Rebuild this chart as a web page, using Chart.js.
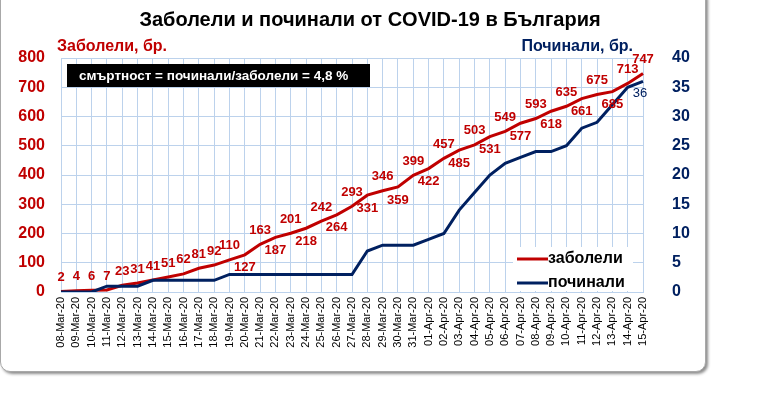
<!DOCTYPE html>
<html lang="bg">
<head>
<meta charset="utf-8">
<title>Заболели и починали от COVID-19 в България</title>
<script src="https://cdn.jsdelivr.net/npm/chart.js@4.4.1/dist/chart.umd.min.js"></script>
<style>
    html, body { margin: 0; padding: 0; background: #fff; overflow: hidden; }
    .frame {
        position: absolute; left: 0; top: -12px;
        width: 704px; height: 382px;
        border: 1px solid #a8a8a8; border-radius: 10px;
        box-shadow: 2px 2px 3px rgba(0, 0, 0, 0.45);
        background: #fff;
    }
    #chart { position: absolute; left: 0; top: 0; }
</style>
</head>
<body>
<div class="frame"></div>
<canvas id="chart" width="768" height="406"></canvas>
<script>
const dates = [
    '08-Mar-20', '09-Mar-20', '10-Mar-20', '11-Mar-20', '12-Mar-20', '13-Mar-20', '14-Mar-20', '15-Mar-20',
    '16-Mar-20', '17-Mar-20', '18-Mar-20', '19-Mar-20', '20-Mar-20', '21-Mar-20', '22-Mar-20', '23-Mar-20',
    '24-Mar-20', '25-Mar-20', '26-Mar-20', '27-Mar-20', '28-Mar-20', '29-Mar-20', '30-Mar-20', '31-Mar-20',
    '01-Apr-20', '02-Apr-20', '03-Apr-20', '04-Apr-20', '05-Apr-20', '06-Apr-20', '07-Apr-20', '08-Apr-20',
    '09-Apr-20', '10-Apr-20', '11-Apr-20', '12-Apr-20', '13-Apr-20', '14-Apr-20', '15-Apr-20'
];
const cases = [2, 4, 6, 7, 23, 31, 41, 51, 62, 81, 92, 110, 127, 163, 187, 201, 218, 242, 264, 293,
    331, 346, 359, 399, 422, 457, 485, 503, 531, 549, 577, 593, 618, 635, 661, 675, 685, 713, 747];
const deaths = [0, 0, 0, 1, 1, 1, 2, 2, 2, 2, 2, 3, 3, 3, 3, 3, 3, 3, 3, 3,
    7, 8, 8, 8, 9, 10, 14, 17, 20, 22, 23, 24, 24, 25, 28, 29, 32, 35, 36];
const casesTicks = [0, 100, 200, 300, 400, 500, 600, 700, 800];
const deathsTicks = [0, 5, 10, 15, 20, 25, 30, 35, 40];
const seriesNames = ['заболели', 'починали'];
const mortalityNote = 'смъртност = починали/заболели = 4,8 %';

document.addEventListener('DOMContentLoaded', function() {
    const RED = '#c00000';
    const NAVY = '#002060';
    const GRID = '#bcd2ec';
    const FONT = '"Liberation Sans", Arial, sans-serif';

    Chart.defaults.font.family = FONT;

    // red labels sit above the line at first, then alternate above/below
    function labelAbove(i) {
        if (i < 12 || i === cases.length - 1) return true;
        return i % 2 === 1;
    }

    const decorations = {
        id: 'decorations',
        afterDatasetsDraw(chart) {
            const ctx = chart.ctx;
            ctx.save();
            ctx.textAlign = 'center';
            ctx.textBaseline = 'middle';

            // value labels for cases
            ctx.font = 'bold 13px ' + FONT;
            ctx.fillStyle = RED;
            chart.getDatasetMeta(0).data.forEach((pt, i) => {
                const dy = labelAbove(i) ? -14 : 13;
                ctx.fillText(String(cases[i]), pt.x, pt.y + dy);
            });

            // only the last deaths value is labelled
            const deathPts = chart.getDatasetMeta(1).data;
            const last = deathPts[deathPts.length - 1];
            ctx.font = '13px ' + FONT;
            ctx.fillStyle = NAVY;
            ctx.fillText(String(deaths[deaths.length - 1]), last.x - 3, last.y + 12);
            ctx.restore();
        },
        afterDraw(chart) {
            const ctx = chart.ctx;
            ctx.save();

            // title
            ctx.textBaseline = 'middle';
            ctx.textAlign = 'center';
            ctx.fillStyle = '#000';
            ctx.font = 'bold 20px ' + FONT;
            ctx.fillText('Заболели и починали от COVID-19 в България', 370, 20);

            // axis titles
            ctx.font = 'bold 16px ' + FONT;
            ctx.textAlign = 'left';
            ctx.fillStyle = RED;
            ctx.fillText('Заболели, бр.', 57, 47);
            ctx.textAlign = 'right';
            ctx.fillStyle = NAVY;
            ctx.fillText('Починали, бр.', 633, 47);

            // mortality note box
            ctx.fillStyle = '#000';
            ctx.fillRect(67, 64, 303, 23);
            ctx.fillStyle = '#fff';
            ctx.textAlign = 'left';
            ctx.font = 'bold 13.5px ' + FONT;
            ctx.fillText(mortalityNote, 79, 76);

            // legend inside the plot
            const colors = [RED, NAVY];
            const rows = [259, 283];
            ctx.fillStyle = '#fff';
            ctx.fillRect(513, 247, 120, 44);
            ctx.font = 'bold 16px ' + FONT;
            seriesNames.forEach((name, i) => {
                ctx.strokeStyle = colors[i];
                ctx.lineWidth = 3;
                ctx.beginPath();
                ctx.moveTo(517, rows[i]);
                ctx.lineTo(548, rows[i]);
                ctx.stroke();
                ctx.fillStyle = '#000';
                ctx.fillText(name, 548, rows[i]);
            });
            ctx.restore();
        }
    };

    const ctx = document.getElementById('chart').getContext('2d');
    new Chart(ctx, {
        type: 'line',
        data: {
            labels: dates,
            datasets: [{
                label: seriesNames[0],
                data: cases,
                yAxisID: 'y',
                order: 1,
                borderColor: RED,
                borderWidth: 3,
                pointRadius: 0,
                tension: 0
            }, {
                label: seriesNames[1],
                data: deaths,
                yAxisID: 'y1',
                order: 0,
                borderColor: NAVY,
                borderWidth: 3,
                pointRadius: 0,
                tension: 0
            }]
        },
        options: {
            responsive: false,
            animation: false,
            layout: { padding: { top: 58, left: 0, right: 0, bottom: 0 } },
            plugins: {
                legend: { display: false },
                tooltip: { enabled: false }
            },
            scales: {
                x: {
                    offset: false,
                    grid: { color: GRID, drawTicks: false },
                    border: { color: GRID },
                    ticks: {
                        autoSkip: false,
                        minRotation: 90,
                        maxRotation: 90,
                        padding: 5,
                        color: '#000',
                        font: { size: 11 }
                    },
                    afterFit(scale) { scale.height = 114; }
                },
                y: {
                    position: 'left',
                    min: casesTicks[0],
                    max: casesTicks[casesTicks.length - 1],
                    grid: { color: GRID, drawTicks: false },
                    border: { color: GRID },
                    ticks: {
                        stepSize: casesTicks[1] - casesTicks[0],
                        padding: 16,
                        color: RED,
                        font: { size: 16, weight: 'bold' }
                    },
                    afterFit(scale) { scale.width = 61; }
                },
                y1: {
                    position: 'right',
                    min: deathsTicks[0],
                    max: deathsTicks[deathsTicks.length - 1],
                    grid: { display: false },
                    border: { display: false },
                    ticks: {
                        stepSize: deathsTicks[1] - deathsTicks[0],
                        padding: 21,
                        color: NAVY,
                        font: { size: 16, weight: 'bold' }
                    },
                    afterFit(scale) { scale.width = 125; }
                }
            }
        },
        plugins: [decorations]
    });
});
</script>
</body>
</html>
